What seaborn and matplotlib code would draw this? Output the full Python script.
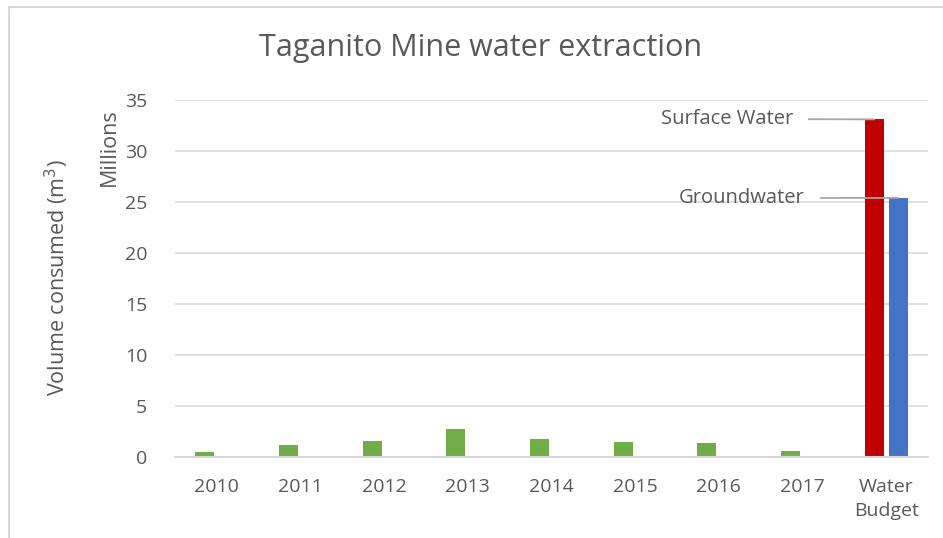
import matplotlib
matplotlib.use("Agg")
import matplotlib.pyplot as plt
from matplotlib.lines import Line2D
import seaborn as sns
import pandas as pd

categories = ["2010", "2011", "2012", "2013", "2014", "2015", "2016", "2017", "Water\nBudget"]
annual_values = [0.52, 1.15, 1.54, 2.7, 1.8, 1.44, 1.35, 0.6, 33.1]
groundwater_budget = [25.4]
yticks = [0, 5, 10, 15, 20, 25, 30, 35]

GREEN = "#70AD47"
RED = "#C00000"
BLUE = "#4472C4"
TXT = "#595959"

rows = [{"cat": c, "series": "A", "val": v} for c, v in zip(categories, annual_values)]
rows.append({"cat": categories[-1], "series": "B", "val": groundwater_budget[0]})
df = pd.DataFrame(rows)

sns.set_theme(style="white")
plt.rcParams["font.family"] = ["Open Sans", "DejaVu Sans"]

fig = plt.figure(figsize=(9.43, 5.38), dpi=100)
ax = fig.add_axes([175/943, 81/538, 753/943, 357/538])

sns.barplot(data=df, x="cat", y="val", hue="series", order=categories,
            hue_order=["A", "B"], palette={"A": GREEN, "B": BLUE},
            width=0.575, gap=0.2, dodge=True, legend=False, ax=ax,
            saturation=1, err_kws={"linewidth": 0})

last = len(categories) - 1
for p in ax.patches:
    cx = p.get_x() + p.get_width() / 2
    if abs(cx - last) < 0.5 and cx < last:
        p.set_facecolor(RED)
    p.set_edgecolor("none")

ax.set_xlim(-0.5, len(categories) - 0.5)
ax.set_ylim(0, 35)
ax.set_yticks(yticks)
ax.set_yticklabels([str(t) for t in yticks])
ax.yaxis.grid(True, color="#D9D9D9", linewidth=1.2)
ax.set_axisbelow(True)
for s in ["top", "right", "left"]:
    ax.spines[s].set_visible(False)
ax.spines["bottom"].set_color("#D9D9D9")
ax.spines["bottom"].set_linewidth(1.5)
ax.tick_params(axis="both", length=0, labelsize=14, labelcolor=TXT)
ax.tick_params(axis="y", pad=20)
ax.tick_params(axis="x", pad=15)
for lbl in ax.get_xticklabels():
    lbl.set_linespacing(1.45)
ax.set_xlabel("")
ax.set_ylabel("")

fig.text(481/943, 1 - 48/538, "Taganito Mine water extraction", ha="center", va="center",
         fontsize=22, color=TXT)
fig.text(57/943, 1 - 278/538, "Volume consumed (m$^3$)", rotation=90, ha="center", va="center",
         fontsize=15.5, color=TXT)
fig.text(109/943, 1 - 147/538, "Millions", rotation=90, ha="center", va="center",
         fontsize=15.5, color=TXT)

# annotations for water budget bars
sw_x = last - 0.143
gw_x = last + 0.143
ax.annotate("Surface Water", xy=(sw_x, annual_values[-1]), xytext=(793/943, 1 - 119/538),
            textcoords="figure fraction", ha="right", va="center", fontsize=14.5, color=TXT,
            arrowprops=dict(arrowstyle="-", color="#A6A6A6", lw=1.3, shrinkA=9, shrinkB=0))
ax.annotate("Groundwater", xy=(gw_x, groundwater_budget[0]), xytext=(805/943, 1 - 198/538),
            textcoords="figure fraction", ha="right", va="center", fontsize=14.5, color=TXT,
            arrowprops=dict(arrowstyle="-", color="#A6A6A6", lw=1.3, shrinkA=9, shrinkB=0))

# chart frame
fig.add_artist(Line2D([8.5/943, 8.5/943], [0, 1 - 6.5/538], transform=fig.transFigure,
                      color="#D9D9D9", lw=1.5))
fig.add_artist(Line2D([8.5/943, 1], [1 - 6.5/538, 1 - 6.5/538], transform=fig.transFigure,
                      color="#D9D9D9", lw=1.5))

fig.savefig("out.png", dpi=100)
